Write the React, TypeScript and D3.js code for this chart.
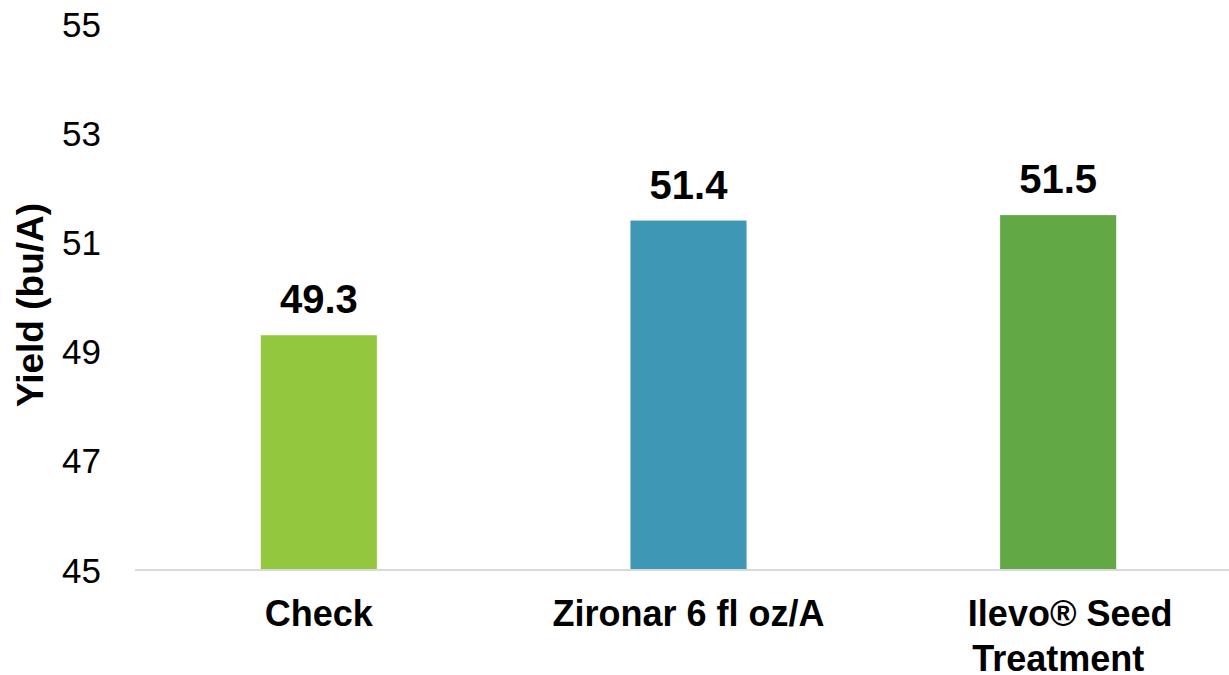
import React from "react";
import * as d3 from "d3";

const categories = ["Check", "Zironar 6 fl oz/A", "Ilevo® Seed Treatment"];
const labelLines = [["Check"], ["Zironar 6 fl oz/A"], ["Ilevo® Seed", "Treatment"]];
const yields = [49.3, 51.4, 51.5];
const barColors = ["#93C83E", "#3E98B5", "#62A945"];
const yTicks = [45, 47, 49, 51, 53, 55];

const width = 1229;
const height = 675;
const font = "'Liberation Sans', Arial, sans-serif";

export default function App() {
  const x = d3
    .scaleBand<string>()
    .domain(categories)
    .range([134, 1243])
    .paddingInner(0.686)
    .paddingOuter(0.343);
  const y = d3.scaleLinear().domain([45, 55]).range([570, 24]);

  return (
    <svg
      width={width}
      height={height}
      style={{ position: "absolute", left: 0, top: 0, background: "#fff" }}
      fontFamily={font}
    >
      {/* y tick labels */}
      {yTicks.map((t) => (
        <text key={t} x={101} y={y(t)} dy="0.36em" textAnchor="end" fontSize={35} fill="#000">
          {t}
        </text>
      ))}

      {/* y axis title */}
      <text
        transform={`translate(43, ${(y(45) + y(55)) / 2 + 8}) rotate(-90)`}
        textAnchor="middle"
        fontSize={37}
        fontWeight="bold"
        fill="#000"
      >
        Yield (bu/A)
      </text>

      {/* bars */}
      {categories.map((c, i) => (
        <rect
          key={c}
          x={x(c)}
          y={y(yields[i])}
          width={x.bandwidth()}
          height={y(45) - y(yields[i])}
          fill={barColors[i]}
        />
      ))}

      {/* baseline */}
      <line x1={135} x2={width} y1={y(45)} y2={y(45)} stroke="#D9D9D9" strokeWidth={2} />

      {/* value labels */}
      {categories.map((c, i) => (
        <text
          key={c}
          x={(x(c) as number) + x.bandwidth() / 2}
          y={y(yields[i]) - 22}
          textAnchor="middle"
          fontSize={40}
          fontWeight="bold"
          fill="#000"
        >
          {yields[i].toFixed(1)}
        </text>
      ))}

      {/* category labels (wrapped lines; first of a wrapped pair sits a bit right, as in the source) */}
      {categories.map((c, i) => {
        const cx = (x(c) as number) + x.bandwidth() / 2;
        const lines = labelLines[i];
        return (
          <text key={c} y={626} textAnchor="middle" fontSize={36} fontWeight="bold" fill="#000">
            {lines.map((line, j) => (
              <tspan
                key={j}
                x={cx + (lines.length > 1 && j === 0 ? 12 : 0)}
                dy={j === 0 ? 0 : 45}
              >
                {line}
              </tspan>
            ))}
          </text>
        );
      })}
    </svg>
  );
}
